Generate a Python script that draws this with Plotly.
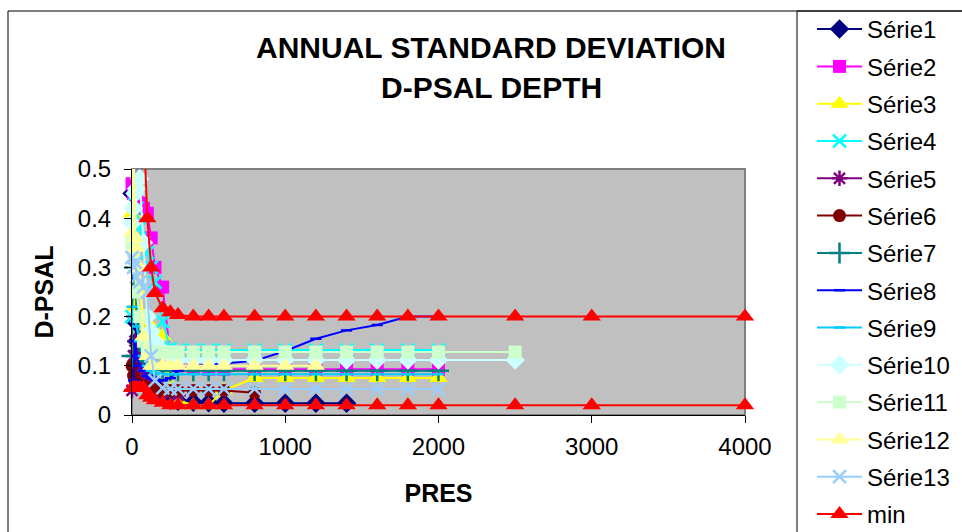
import plotly.graph_objects as go

# Pressure levels (x axis, PRES)
pres = [0, 10, 20, 30, 50, 75, 100, 125, 150, 200, 250, 300, 400, 500, 600,
        800, 1000, 1200, 1400, 1600, 1800, 2000, 2500, 3000, 4000]

# Series values (D-PSAL); each series uses the first N levels
serie1 = [0.45, 0.62, 0.19, 0.15, 0.12, 0.10, 0.09, 0.07, 0.06, 0.04, 0.03, 0.028,
          0.026, 0.025, 0.024, 0.024, 0.024, 0.024, 0.024]
serie2 = [0.47, 0.45, 0.52, 0.44, 0.43, 0.42, 0.41, 0.36, 0.30, 0.26, 0.12, 0.10,
          0.095, 0.093, 0.093, 0.093, 0.093, 0.093, 0.093, 0.093, 0.093, 0.093]
serie3 = [0.41, 0.60, 0.22, 0.30, 0.25, 0.20, 0.19, 0.18, 0.17, 0.16, 0.06, 0.03,
          0.02, 0.02, 0.05, 0.075, 0.075, 0.075, 0.075, 0.075, 0.075, 0.075]
serie4 = [0.20, 0.60, 0.45, 0.42, 0.38, 0.35, 0.33, 0.30, 0.27, 0.19, 0.135, 0.132,
          0.132, 0.132, 0.132, 0.132, 0.132, 0.132, 0.132, 0.132, 0.132, 0.132]
serie5 = [0.05, 0.12, 0.15, 0.13, 0.10, 0.08, 0.07, 0.06, 0.05, 0.05, 0.045, 0.04]
serie6 = [0.10, 0.08, 0.07, 0.065, 0.06, 0.06, 0.055, 0.05, 0.05, 0.05, 0.05, 0.05,
          0.05, 0.05, 0.05, 0.045]
serie7 = [0.12, 0.55, 0.30, 0.20, 0.15, 0.12, 0.11, 0.10, 0.095, 0.092, 0.09, 0.09,
          0.09, 0.09, 0.09, 0.09, 0.09, 0.09, 0.09, 0.09, 0.09, 0.09]
serie8 = [0.05, 0.07, 0.15, 0.12, 0.10, 0.09, 0.08, 0.075, 0.072, 0.07, 0.075, 0.09,
          0.10, 0.102, 0.105, 0.11, 0.13, 0.155, 0.172, 0.183, 0.20, 0.20]
serie9 = [0.22, 0.20, 0.19, 0.18, 0.15, 0.12, 0.10, 0.09, 0.085, 0.083, 0.083, 0.083,
          0.083, 0.083, 0.083, 0.083, 0.083, 0.083, 0.083, 0.083, 0.083, 0.083]
serie10 = [0.39, 0.42, 0.45, 0.46, 0.48, 0.35, 0.20, 0.17, 0.15, 0.13, 0.12, 0.112,
           0.112, 0.112, 0.112, 0.112, 0.112, 0.112, 0.112, 0.112, 0.112, 0.112, 0.112]
serie11 = [0.35, 0.33, 0.30, 0.25, 0.20, 0.15, 0.13, 0.128, 0.128, 0.128, 0.128, 0.128,
           0.128, 0.128, 0.128, 0.128, 0.128, 0.128, 0.128, 0.128, 0.128, 0.128, 0.128]
serie12 = [0.37, 0.60, 0.36, 0.34, 0.30, 0.16, 0.12, 0.10, 0.10, 0.10, 0.10, 0.10,
           0.10, 0.10, 0.10, 0.10, 0.10, 0.10]
serie13 = [0.32, 0.30, 0.31, 0.28, 0.27, 0.26, 0.25, 0.12, 0.07, 0.055, 0.053, 0.053,
           0.053, 0.053, 0.053, 0.053, 0.053, 0.053, 0.053, 0.053, 0.053, 0.053]
min_upper = [1.5, 1.2, 1.0, 0.9, 0.8, 0.6, 0.40, 0.30, 0.248, 0.217, 0.209, 0.203,
             0.20, 0.20, 0.20, 0.20, 0.20, 0.20, 0.20, 0.20, 0.20, 0.20, 0.20, 0.20, 0.20]
min_lower = [0.055, 0.055, 0.055, 0.055, 0.055, 0.055, 0.04, 0.035, 0.03, 0.025, 0.02,
             0.02, 0.02, 0.02, 0.02, 0.02, 0.02, 0.02, 0.02, 0.02, 0.02, 0.02, 0.02, 0.02, 0.02]

names = ["Série1", "Série2", "Série3", "Série4", "Série5", "Série6", "Série7",
         "Série8", "Série9", "Série10", "Série11", "Série12", "Série13", "min"]
colors = ["#000080", "#FF00FF", "#FFFF00", "#00FFFF", "#800080", "#800000", "#008080",
          "#0000FF", "#00CCFF", "#CCFFFF", "#CCFFCC", "#FFFF99", "#99CCFF", "#FF0000"]
symbols = ["diamond", "square", "triangle-up", "x-thin", "asterisk", "circle", "cross-thin",
           "line-ew", "line-ew", "diamond", "square", "triangle-up", "x-thin", "triangle-up"]
sizes = [15, 13, 16, 13, 13, 13, 15, 8, 8, 15, 13, 16, 13, 16]
values = [serie1, serie2, serie3, serie4, serie5, serie6, serie7, serie8, serie9,
          serie10, serie11, serie12, serie13]

FONT = "Arial, 'Liberation Sans', sans-serif"

fig = go.Figure()
for i, name in enumerate(names):
    if name == "min":
        xs = pres + [None] + pres
        ys = min_upper + [None] + min_lower
    else:
        ys = values[i]
        xs = pres[:len(ys)]
    thin = symbols[i] in ("x-thin", "asterisk", "cross-thin", "line-ew")
    fig.add_trace(go.Scatter(
        x=xs, y=ys, mode="lines+markers", name=name, legendgroup=name,
        cliponaxis=False, connectgaps=False,
        line=dict(color=colors[i], width=2),
        marker=dict(symbol=symbols[i], size=sizes[i], color=colors[i],
                    line=dict(color=colors[i], width=2.5 if thin else 0)),
    ))

PL, PR, PT, PB = 132, 745, 169, 415
W, H = 962, 532

def px(x):
    return (x - PL) / (PR - PL)

def py(y):
    return (PB - y) / (PB - PT)

fig.update_layout(
    width=W, height=H,
    margin=dict(l=PL, r=W - PR, t=PT, b=H - PB, autoexpand=False),
    paper_bgcolor="white", plot_bgcolor="#C0C0C0",
    font=dict(family=FONT, size=24, color="black"),
    showlegend=True,
    legend=dict(x=px(812), y=py(7), xanchor="left", yanchor="top",
                bgcolor="rgba(0,0,0,0)", borderwidth=0,
                font=dict(family=FONT, size=24, color="black"),
                tracegroupgap=3.1, itemwidth=45, maxheight=700,
                traceorder="grouped"),
    xaxis=dict(range=[0, 4000], dtick=1000, showgrid=False, zeroline=False,
               showline=True, linecolor="black", linewidth=1,
               ticks="outside", ticklen=7, tickcolor="black",
               tickfont=dict(size=24), ticklabelstandoff=3,
               title=dict(text="<b>PRES</b>", font=dict(size=25), standoff=25)),
    yaxis=dict(range=[0, 0.5], dtick=0.1, showgrid=False, zeroline=False,
               showline=True, linecolor="black", linewidth=1,
               ticks="outside", ticklen=7, tickcolor="black",
               tickfont=dict(size=24), ticklabelstandoff=8,
               title=dict(text="<b>D-PSAL</b>", font=dict(size=25), standoff=17)),
    shapes=[
        # plot-area frame
        dict(type="rect", xref="x domain", yref="y domain", x0=0, x1=1, y0=0, y1=1,
             line=dict(color="#808080", width=2), layer="below"),
        # outer chart border
        dict(type="rect", xref="paper", yref="paper", x0=px(8), x1=px(1100),
             y0=py(700), y1=py(11), line=dict(color="black", width=1)),
        # legend box
        dict(type="rect", xref="paper", yref="paper", x0=px(797), x1=px(1100),
             y0=py(700), y1=py(11), line=dict(color="black", width=1)),
    ],
    annotations=[
        dict(text="<b>ANNUAL STANDARD DEVIATION</b>", x=px(491), y=py(47),
             xref="paper", yref="paper", showarrow=False, xanchor="center",
             yanchor="middle", font=dict(size=30)),
        dict(text="<b>D-PSAL DEPTH</b>", x=px(491), y=py(88),
             xref="paper", yref="paper", showarrow=False, xanchor="center",
             yanchor="middle", font=dict(size=30)),
    ],
)

fig.write_html("out.html")
